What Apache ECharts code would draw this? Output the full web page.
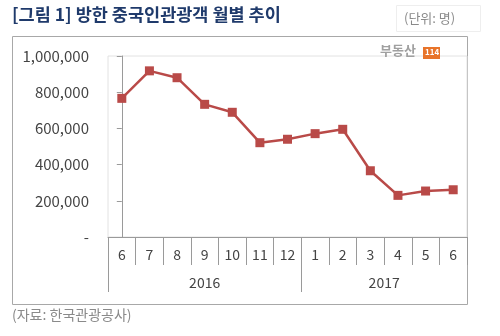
<!DOCTYPE html>
<html>
<head>
<meta charset="utf-8">
<script src="https://cdn.jsdelivr.net/npm/echarts@6/dist/echarts.min.js"></script>
<style>
  html, body { margin: 0; padding: 0; background: #fff; }
  #chart { width: 500px; height: 336px; }
</style>
</head>
<body>
<div id="chart"></div>
<script>
// Monthly Chinese visitors to Korea, Jun 2016 – Jun 2017
const months = ['6', '7', '8', '9', '10', '11', '12', '1', '2', '3', '4', '5', '6'];
const visitors = [766000, 918000, 880000, 733000, 689000, 521000, 540000, 571000, 595000, 366000, 230000, 254000, 261000];
const yearLabels = ['2016', '2017'];
const yearCenters = [3, 9.5];      // middle of each year's month span
const yearDividers = [-0.5, 6.5];  // boundaries between years
const yTicks = { min: 0, max: 1000000, step: 200000 };

const font = '"Noto Sans CJK KR", "Noto Sans", sans-serif';
const chart = echarts.init(document.getElementById('chart'), null, { renderer: 'canvas' });

chart.setOption({
  animation: false,
  textStyle: { fontFamily: font },
  grid: { left: 108, right: 33, top: 56, bottom: 99, show: true, borderColor: '#e2e2e2', borderWidth: 1 },
  xAxis: [
    {
      type: 'category',
      data: months,
      boundaryGap: true,
      axisLine: { lineStyle: { color: '#9a9a9a', width: 1 } },
      axisTick: { show: true, interval: 0, length: 28, lineStyle: { color: '#9a9a9a' } },
      axisLabel: { interval: 0, color: '#444', fontSize: 14, margin: 11, fontFamily: font }
    },
    {
      type: 'value',
      position: 'bottom',
      min: -0.5,
      max: 12.5,
      axisLine: { show: false },
      splitLine: { show: false },
      axisTick: { show: true, length: 55, customValues: yearDividers, lineStyle: { color: '#9a9a9a' } },
      axisLabel: {
        customValues: yearCenters,
        color: '#444', fontSize: 14, margin: 39, fontFamily: font,
        formatter: v => yearLabels[yearCenters.indexOf(v)] || ''
      }
    }
  ],
  yAxis: {
    type: 'value',
    min: yTicks.min,
    max: yTicks.max,
    interval: yTicks.step,
    axisLine: { show: true, lineStyle: { color: '#9a9a9a' } },
    axisTick: { show: true, length: 5, lineStyle: { color: '#9a9a9a' } },
    splitLine: { show: false },
    axisLabel: {
      color: '#444', fontSize: 15, margin: 19, fontFamily: font,
      formatter: v => v === 0 ? '-' : v.toLocaleString('en-US')
    }
  },
  series: [{
    type: 'line',
    xAxisIndex: 0,
    data: visitors,
    symbol: 'rect',
    symbolSize: 9,
    lineStyle: { color: '#b94a48', width: 2.5 },
    itemStyle: { color: '#b94a48' }
  }],
  graphic: [
    { type: 'rect', shape: { x: 12.5, y: 36.5, width: 455, height: 268 }, style: { fill: 'none', stroke: '#a8a8a8', lineWidth: 1 }, z: -1 },
    { type: 'rect', shape: { x: 396.5, y: 5.5, width: 84, height: 26 }, style: { fill: 'none', stroke: '#eeeeee', lineWidth: 1 } },
    { type: 'text', left: 12, top: 6, style: { text: '[그림 1] 방한 중국인관광객 월별 추이', fill: '#1f3a6b', font: 'bold 17.5px ' + font } },
    { type: 'text', left: 404, top: 12, style: { text: '(단위: 명)', fill: '#8a8a8a', font: '13px ' + font } },
    { type: 'text', left: 12, top: 308, style: { text: '(자료: 한국관광공사)', fill: '#8a8a8a', font: '14px ' + font } },
    { type: 'text', left: 380, top: 44, style: { text: '부동산', fill: '#a0a0a0', font: 'bold 13px ' + font } },
    { type: 'rect', shape: { x: 423, y: 47, width: 17, height: 12 }, style: { fill: '#e8742a' } },
    { type: 'text', left: 425, top: 48, style: { text: '114', fill: '#fff', font: 'bold 8px ' + font } }
  ]
});
</script>
</body>
</html>
